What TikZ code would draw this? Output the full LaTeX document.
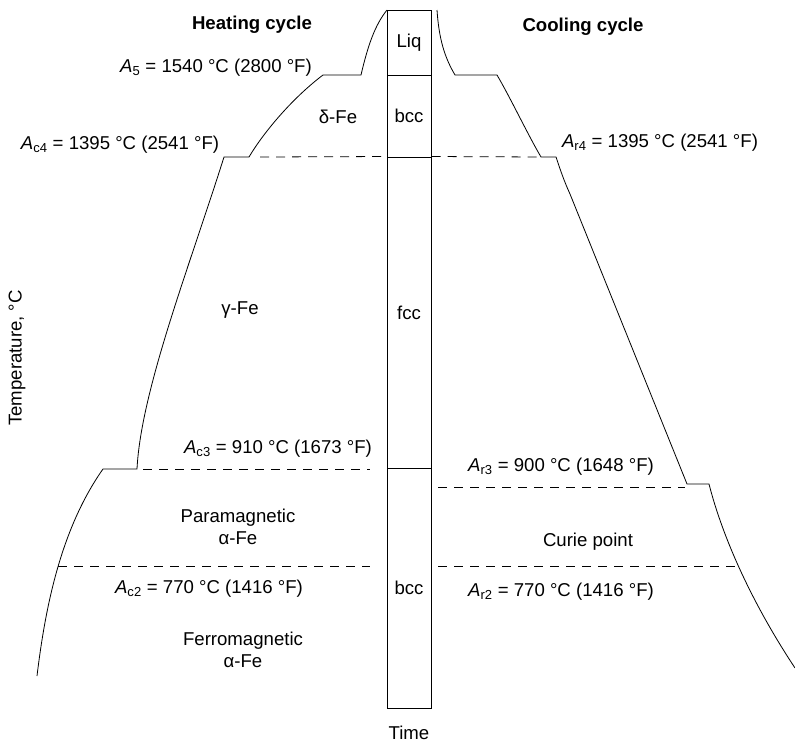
\documentclass[tikz,border=0pt]{standalone}
\usepackage{fontspec}
\setmainfont{Liberation Sans}
\usetikzlibrary{positioning, calc}

\newcommand{\Asub}[1]{\textit{A}\textsubscript{#1}}

\begin{document}
\begin{tikzpicture}[x=1pt, y=-1pt, line width=0.8pt,
  every node/.style={font=\fontsize{18.6}{22}\selectfont, inner sep=0pt},
  cycle/.style={font=\fontsize{18.6}{22}\selectfont\bfseries},
  phase/.style={draw, line width=1pt, minimum width=44pt},
  trans/.style={dash pattern=on 9pt off 7pt}]
  \useasboundingbox (0,0) rectangle (795,747);

  \node[phase, minimum height=65pt] (liq) at (409,42.5) {Liq};
  \node[phase, minimum height=82pt] (bcchi) at (409,116) {bcc};
  \node[phase, minimum height=311pt] (fcc) at (409,312.5) {fcc};
  \node[phase, minimum height=240pt] (bcclo) at (409,588) {bcc};

  \node[cycle] (heat) at (252,25) {Heating cycle};
  \node[cycle] (cool) at (583,27) {Cooling cycle};
  \node (time) at (409,733) {Time};
  \node[rotate=90] (temp) at (17,358) {Temperature, °C};

  \node (a5) at (216,68) {\Asub{5} = 1540 °C (2800 °F)};
  \node (ac4) at (120,145) {\Asub{c4} = 1395 °C (2541 °F)};
  \node (ar4) at (660,143) {\Asub{r4} = 1395 °C (2541 °F)};
  \node (ac3) at (278,449) {\Asub{c3} = 910 °C (1673 °F)};
  \node (ar3) at (561,467) {\Asub{r3} = 900 °C (1648 °F)};
  \node (ac2) at (209,589) {\Asub{c2} = 770 °C (1416 °F)};
  \node (ar2) at (561,592) {\Asub{r2} = 770 °C (1416 °F)};

  \node (delta) at (338,117) {δ-Fe};
  \node (gamma) at (240,310) {γ-Fe};
  \node[align=center] (para) at (238,527) {Paramagnetic\\α-Fe};
  \node[align=center] (ferro) at (243,650) {Ferromagnetic\\α-Fe};
  \node (curie) at (588,542) {Curie point};

  \draw (37,676) .. controls (45,610) and (60,530) .. (103,469) -- (137,469)
    .. controls (141,390) and (190,265) .. (224,157) -- (249,157)
    .. controls (262,135) and (290,100) .. (323,75) -- (361,75)
    .. controls (368,45) and (375,25) .. (387,10);

  \draw (437,10) .. controls (439,40) and (445,58) .. (455,75) -- (497,75)
    .. controls (510,97) and (528,135) .. (541,157) -- (556,157)
    .. controls (562,175) and (565,183) .. (570,194) -- (687,484) -- (709,484)
    .. controls (722,535) and (750,600) .. (795,668);

  \coordinate (d4l) at (260,157);
  \coordinate (d4r) at (540,157);
  \coordinate (d3l) at (143,469);
  \coordinate (d3r) at (685,487);
  \coordinate (d2l) at (58,566);
  \coordinate (d2r) at (735,566);

  \draw[trans] (d4l) -- (fcc.north west);
  \draw[trans] (fcc.north east) -- (d4r);
  \draw[trans] (d3l) -- (370,469);
  \draw[trans] (438,487) -- (d3r);
  \draw[trans] (d2l) -- (370,566);
  \draw[trans] (438,566) -- (d2r);
\end{tikzpicture}
\end{document}
